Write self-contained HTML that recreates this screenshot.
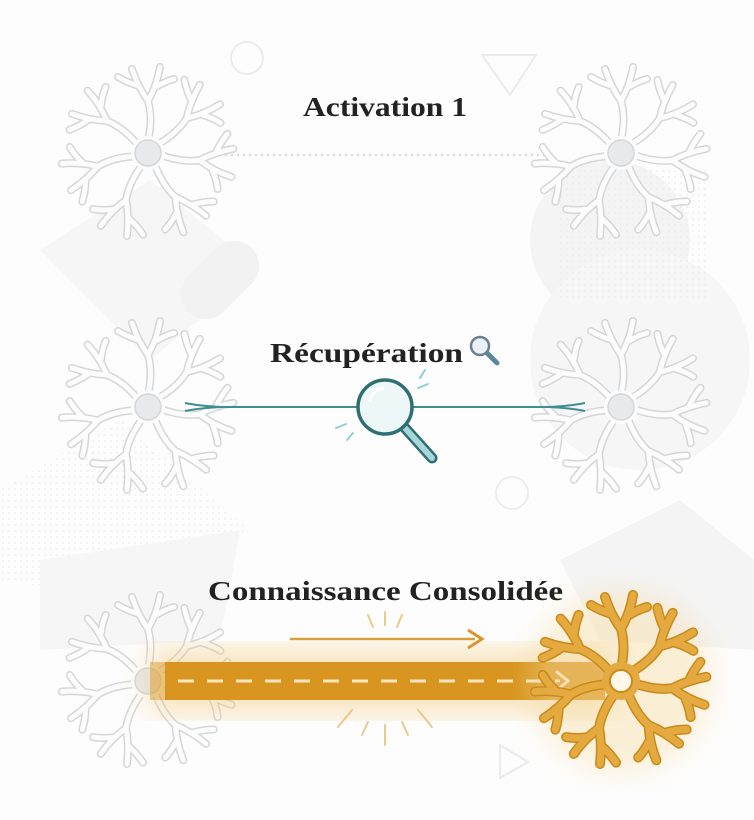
<!DOCTYPE html>
<html><head><meta charset="utf-8"><style>
html,body{margin:0;padding:0;background:#fff;}
svg{display:block;}
</style></head><body>
<svg width="754" height="820" viewBox="0 0 754 820" xmlns="http://www.w3.org/2000/svg">
<defs>
<pattern id="dots" width="6" height="6" patternUnits="userSpaceOnUse"><circle cx="3" cy="3" r="0.9" fill="#ececec"/></pattern>
<filter id="blur"><feGaussianBlur stdDeviation="14"/></filter>
<path id="br" d="M0 -12 Q5 -35 0 -52 M0 -52 Q-10 -66 -16 -84 M0 -52 Q9 -68 12 -86 M-9 -67 Q-20 -70 -30 -76 M8 -66 Q18 -72 26 -74" fill="none" stroke-linecap="round" stroke-linejoin="round"/>
<g id="dend">
<use href="#br"/><use href="#br" transform="rotate(48)"/><use href="#br" transform="rotate(98)"/>
<use href="#br" transform="rotate(148)"/><use href="#br" transform="rotate(205)"/>
<use href="#br" transform="rotate(255)"/><use href="#br" transform="rotate(308)"/>
</g>
<g id="neuronG">
<use href="#dend" stroke="#d4d6d8" stroke-width="8"/>
<use href="#dend" stroke="#fcfcfc" stroke-width="5"/>
<circle r="17" fill="#fcfcfc"/>
<circle r="13" fill="#e7e9eb" stroke="#d4d6d8" stroke-width="1.5"/>
</g>
<g id="neuronO">
<use href="#dend" stroke="#c98a1a" stroke-width="10"/>
<use href="#dend" stroke="#e4aa40" stroke-width="7"/>
<circle r="19" fill="#e4aa40"/>
<circle r="11" fill="#fff8ea" stroke="#c98a1a" stroke-width="2"/>
</g>
</defs>

<rect width="754" height="820" fill="#fdfdfd"/>
<polygon points="40,250 150,180 260,270 150,360" fill="#f6f6f6"/>
<rect x="195" y="235" width="50" height="90" rx="25" fill="#f2f2f2" transform="rotate(45 220 280)"/>
<circle cx="610" cy="240" r="80" fill="#f4f4f4"/>
<circle cx="640" cy="360" r="110" fill="#f6f6f6"/>
<rect x="560" y="170" width="150" height="130" fill="url(#dots)"/>
<polygon points="0,490 120,420 250,530 120,600 0,580" fill="url(#dots)"/>
<polygon points="40,560 240,530 220,640 40,650" fill="#f6f6f6"/>
<polygon points="560,560 680,500 754,560 754,650 600,640" fill="#f4f4f4"/>
<circle cx="247" cy="58" r="16" fill="none" stroke="#ececec" stroke-width="2"/>
<polygon points="482,55 536,55 510,95" fill="none" stroke="#ebebeb" stroke-width="2"/>
<circle cx="512" cy="493" r="16" fill="none" stroke="#ececec" stroke-width="2"/>
<polygon points="500,745 500,778 528,762" fill="none" stroke="#ebebeb" stroke-width="2"/>

<!-- top -->
<line x1="225" y1="155" x2="545" y2="155" stroke="#dadada" stroke-width="2" stroke-dasharray="2 4"/>
<use href="#neuronG" x="148" y="153"/>
<use href="#neuronG" x="621" y="153"/>
<text x="303" y="116" font-family="Liberation Serif, serif" font-weight="bold" font-size="27" fill="#222" textLength="164" lengthAdjust="spacingAndGlyphs">Activation 1</text>

<!-- middle -->
<use href="#neuronG" x="148" y="407"/>
<use href="#neuronG" x="621" y="407"/>
<path d="M185 403 Q200 406 222 407 L357 407 M413 407 L548 407 Q570 406 585 403 M185 411 Q200 408 222 407 M548 407 Q570 408 585 411" fill="none" stroke="#3f8f92" stroke-width="2"/>
<line x1="405" y1="428" x2="432" y2="458" stroke="#2e6f72" stroke-width="11" stroke-linecap="round"/>
<line x1="405" y1="428" x2="432" y2="458" stroke="#a9d6d8" stroke-width="6" stroke-linecap="round"/>
<circle cx="385" cy="407" r="27" fill="#eef7f8" stroke="#2e6f72" stroke-width="3.5"/>
<path d="M370 400 Q373 390 383 388" fill="none" stroke="#fff" stroke-width="3" stroke-linecap="round"/>
<g stroke="#8fcfd3" stroke-width="2" stroke-linecap="round">
<line x1="418" y1="388" x2="428" y2="384"/><line x1="420" y1="378" x2="425" y2="370"/>
<line x1="336" y1="428" x2="346" y2="424"/><line x1="347" y1="440" x2="353" y2="433"/>
</g>
<text x="270" y="362" font-family="Liberation Serif, serif" font-weight="bold" font-size="27" fill="#222" textLength="193" lengthAdjust="spacingAndGlyphs">Récupération</text>
<line x1="487" y1="353" x2="497" y2="363" stroke="#5a8a9a" stroke-width="5" stroke-linecap="round"/>
<circle cx="480" cy="346" r="9" fill="#e8f1f7" stroke="#6a7f8f" stroke-width="2.5"/>

<!-- bottom -->
<use href="#neuronG" x="148" y="681"/>
<rect x="150" y="648" width="460" height="66" fill="#f2c56f" opacity="0.45" filter="url(#blur)"/>
<rect x="165" y="662" width="440" height="38" fill="#d8951f"/>
<rect x="150" y="662" width="20" height="38" fill="#d8951f" opacity="0.45"/>
<line x1="178" y1="681" x2="560" y2="681" stroke="#fbe6bd" stroke-width="3" stroke-dasharray="16 13"/>
<path d="M557 672 L568 681 L557 690" fill="none" stroke="#fbe6bd" stroke-width="3" stroke-linecap="round"/>
<circle cx="621" cy="681" r="90" fill="#f7dca3" opacity="0.45" filter="url(#blur)"/>
<use href="#neuronO" x="621" y="681"/>
<line x1="290" y1="639" x2="475" y2="639" stroke="#d9a03a" stroke-width="2.5"/>
<path d="M468 630 L482 639 L468 648" fill="none" stroke="#d9952a" stroke-width="3"/>
<g stroke="#ecc88a" stroke-width="2" stroke-linecap="round">
<line x1="385" y1="612" x2="385" y2="625"/><line x1="368" y1="615" x2="373" y2="627"/><line x1="402" y1="615" x2="397" y2="627"/>
<line x1="385" y1="725" x2="385" y2="745"/><line x1="368" y1="722" x2="362" y2="735"/><line x1="402" y1="722" x2="408" y2="735"/>
<line x1="352" y1="710" x2="338" y2="727"/><line x1="418" y1="710" x2="432" y2="727"/>
</g>
<text x="208" y="600" font-family="Liberation Serif, serif" font-weight="bold" font-size="27" fill="#222" textLength="355" lengthAdjust="spacingAndGlyphs">Connaissance Consolidée</text>
</svg>
</body></html>
